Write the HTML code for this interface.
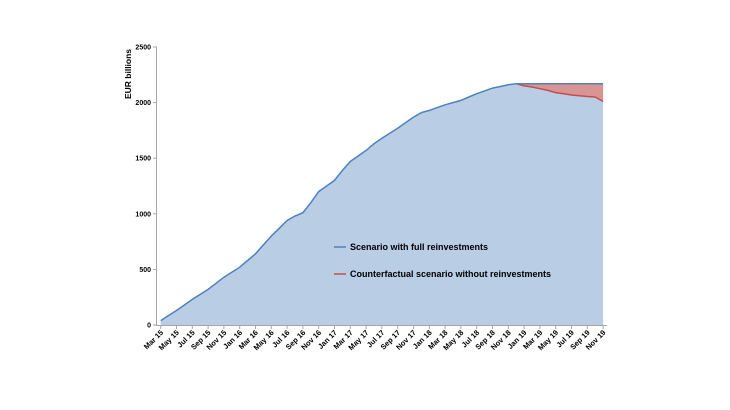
<!DOCTYPE html>
<html><head><meta charset="utf-8"><style>
html,body{margin:0;padding:0;background:#fff;}
svg{display:block;font-family:"Liberation Sans",Arial,sans-serif;}
</style></head><body>
<svg id="c" width="730" height="410" viewBox="0 0 730 410" xmlns="http://www.w3.org/2000/svg"></svg>
<script>
var s=document.getElementById('c'),h='';
function X(m){return 160.7+m*7.9;}
function Y(v){return 325-v*0.1112;}
var blue=[40,85,130,180,230,275,320,375,430,475,520,580,640,720,800,870,940,980,1010,1100,1200,1250,1300,1390,1470,1520,1570,1630,1680,1725,1770,1820,1870,1910,1930,1955,1980,2000,2020,2050,2080,2105,2130,2145,2160,2170];
var pb=[];for(var i=0;i<blue.length;i++)pb.push([X(i),Y(blue[i])]);
for(var i=46;i<=56;i++)pb.push([X(i),Y(2170)]);
var pr=[];var rv=[2170,2150,2140,2125,2110,2090,2080,2068,2062,2055,2050,2030,2010];
for(var i=0;i<12;i++)pr.push([X(45+i),Y(rv[i])]);
pr[11]=[X(56),Y(2010)];
function pts(a){return a.map(function(p){return p[0].toFixed(1)+','+p[1].toFixed(1)}).join(' ');}
var base=Y(0);
h+='<polygon points="'+pts(pb)+' '+X(56).toFixed(1)+','+base+' '+X(0).toFixed(1)+','+base+'" fill="#b9cde5"/>';
h+='<polygon points="'+X(45).toFixed(1)+','+Y(2170).toFixed(1)+' '+X(56).toFixed(1)+','+Y(2170).toFixed(1)+' '+pts(pr.slice().reverse())+'" fill="#d99594"/>';
h+='<polyline points="'+pts(pr)+'" fill="none" stroke="#c0504d" stroke-width="1.5"/>';
h+='<polyline points="'+pts(pb)+'" fill="none" stroke="#4f81bd" stroke-width="1.5"/>';
h+='<line x1="156.5" y1="47" x2="156.5" y2="325" stroke="#a6a6a6" stroke-width="1"/>';
h+='<line x1="156" y1="325.5" x2="607" y2="325.5" stroke="#a6a6a6" stroke-width="1"/>';
for(var v=0;v<=2500;v+=500){var y=Y(v);h+='<line x1="153" y1="'+y+'" x2="157" y2="'+y+'" stroke="#a6a6a6"/>';h+='<text x="151" y="'+(y+2.5)+'" font-size="7" text-anchor="end" fill="#000" font-weight="bold">'+v+'</text>';}
var mn=['Jan','Mar','May','Jul','Sep','Nov'];
var k=0;for(var yr=15;yr<=19;yr++)for(var j=0;j<6;j++){if(yr==15&&j==0)continue;var m=k*2;k++;var x=X(m);
h+='<line x1="'+x+'" y1="325" x2="'+x+'" y2="329" stroke="#a6a6a6"/>';
h+='<text transform="translate('+(x+3)+',333) rotate(-45)" font-size="7.5" font-weight="bold" text-anchor="end" fill="#000">'+mn[j]+' '+yr+'</text>';}
h+='<text transform="translate(131,74) rotate(-90)" font-size="8.5" font-weight="bold" text-anchor="middle">EUR billions</text>';
h+='<line x1="334" y1="247" x2="346" y2="247" stroke="#4f81bd" stroke-width="1.5"/>';
h+='<text x="350" y="250" font-size="9" font-weight="bold">Scenario with full reinvestments</text>';
h+='<line x1="334" y1="274" x2="346" y2="274" stroke="#c0504d" stroke-width="1.5"/>';
h+='<text x="350" y="277" font-size="9" font-weight="bold">Counterfactual scenario without reinvestments</text>';
s.innerHTML=h;
</script>
</body></html>
